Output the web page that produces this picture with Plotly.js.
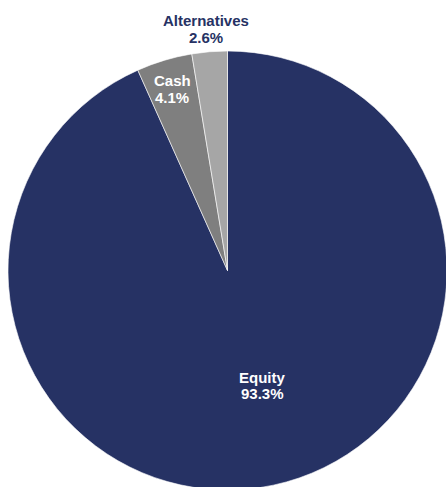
<!DOCTYPE html>
<html>
<head>
<meta charset="utf-8">
<script src="https://cdn.plot.ly/plotly-3.0.1.min.js"></script>
<style>html,body{margin:0;padding:0;background:#fff;overflow:hidden;}#chart{width:447px;height:490px;}</style>
</head>
<body>
<div id="chart"></div>
<script>
const categories = ['Equity', 'Cash', 'Alternatives'];
const values = [93.3, 4.1, 2.6];
const sliceColors = ['#263264', '#7f7f7f', '#a6a6a6'];
const labelColors = ['#ffffff', '#ffffff', '#263264'];

// label anchor positions (paper fractions) for each category: name line and value line
const labelX = [0.5786, 0.3747, 0.450];
const nameY = [0.2574, 0.9328, 1.0695];
const valueY = [0.2187, 0.8941, 1.0308];

const trace = {
  type: 'pie',
  labels: categories,
  values: values,
  sort: false,
  direction: 'clockwise',
  rotation: 0,
  marker: {colors: sliceColors, line: {color: '#ffffff', width: 0.6}},
  textinfo: 'none',
  hoverinfo: 'none',
  showlegend: false
};

const annotations = [];
categories.forEach((c, i) => {
  const font = {family: 'Liberation Sans, Arial, sans-serif', size: 15, color: labelColors[i]};
  annotations.push({
    xref: 'paper', yref: 'paper', x: labelX[i], y: nameY[i],
    xanchor: 'center', yanchor: 'middle', showarrow: false,
    text: '<b>' + c + '</b>', font: font
  });
  annotations.push({
    xref: 'paper', yref: 'paper', x: labelX[i], y: valueY[i],
    xanchor: 'center', yanchor: 'middle', showarrow: false,
    text: '<b>' + values[i].toFixed(1) + '%</b>', font: font
  });
});

const layout = {
  width: 447,
  height: 490,
  margin: {l: 8, r: 0, t: 51, b: 0},
  paper_bgcolor: '#ffffff',
  showlegend: false,
  annotations: annotations
};

Plotly.newPlot('chart', [trace], layout, {displayModeBar: false, staticPlot: true});
</script>
</body>
</html>
